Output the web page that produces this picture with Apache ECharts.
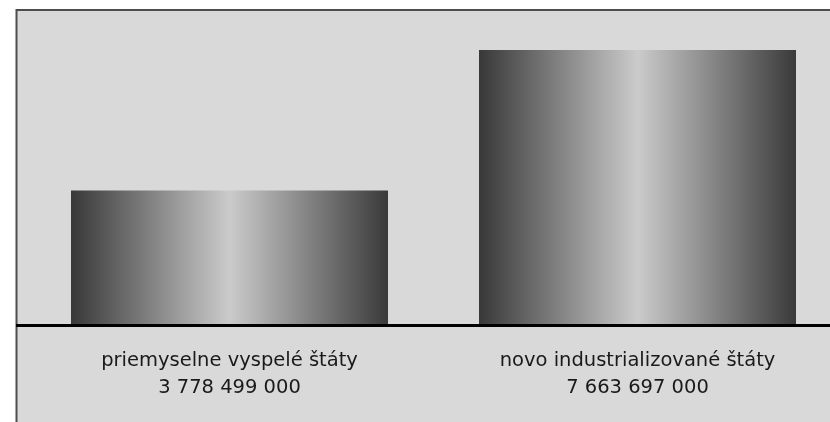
<!DOCTYPE html>
<html lang="sk">
<head>
    <meta charset="UTF-8">
    <script type="text/javascript" src="https://cdn.jsdelivr.net/npm/echarts@6/dist/echarts.min.js"></script>
    <style>
        html, body { margin: 0; padding: 0; background: #fff; }
        #chart { width: 830px; height: 422px; }
    </style>
</head>
<body>
<div id="chart"></div>
<script>
    var categories = ['priemyselne vyspelé štáty', 'novo industrializované štáty'];
    var values = [3778499000, 7663697000];

    // 3778499000 -> "3 778 499 000"
    function spaced(n) {
        return String(n).replace(/\B(?=(\d{3})+(?!\d))/g, ' ');
    }

    var myChart = echarts.init(document.getElementById('chart'));
    myChart.setOption({
        backgroundColor: '#fff',
        animation: false,
        graphic: [
            {
                type: 'rect',
                z: -10,
                shape: {x: 16.5, y: 10, width: 900, height: 500},
                style: {fill: '#d9d9d9', stroke: '#4d4d4d', lineWidth: 2}
            },
            {
                type: 'line',
                z: 100,
                shape: {x1: 16, y1: 325.5, x2: 830, y2: 325.5},
                style: {stroke: '#000', lineWidth: 3}
            }
        ],
        // plot runs past the right edge so the category centres land where the bars are
        grid: {left: 25.5, width: 816, top: 9, bottom: 95, outerBoundsMode: 'none', containLabel: false},
        xAxis: {
            type: 'category',
            data: categories,
            axisLine: {show: false},
            axisTick: {show: false},
            axisLabel: {
                margin: 20,
                interval: 0,
                fontFamily: 'DejaVu Sans',
                fontSize: 19.5,
                lineHeight: 27,
                color: '#1a1a1a',
                formatter: function (name, idx) {
                    return name + '\n' + spaced(values[idx]);
                }
            }
        },
        yAxis: {
            type: 'value',
            min: 0,
            max: 8800000000,
            show: false,
            splitLine: {show: false}
        },
        series: [
            {
                type: 'bar',
                data: values,
                barWidth: 317,
                silent: true,
                itemStyle: {
                    color: new echarts.graphic.LinearGradient(0, 0, 1, 0, [
                        {offset: 0, color: '#383838'},
                        {offset: 0.5, color: '#cbcbcb'},
                        {offset: 1, color: '#3a3a3a'}
                    ])
                }
            }
        ]
    });
</script>
</body>
</html>
